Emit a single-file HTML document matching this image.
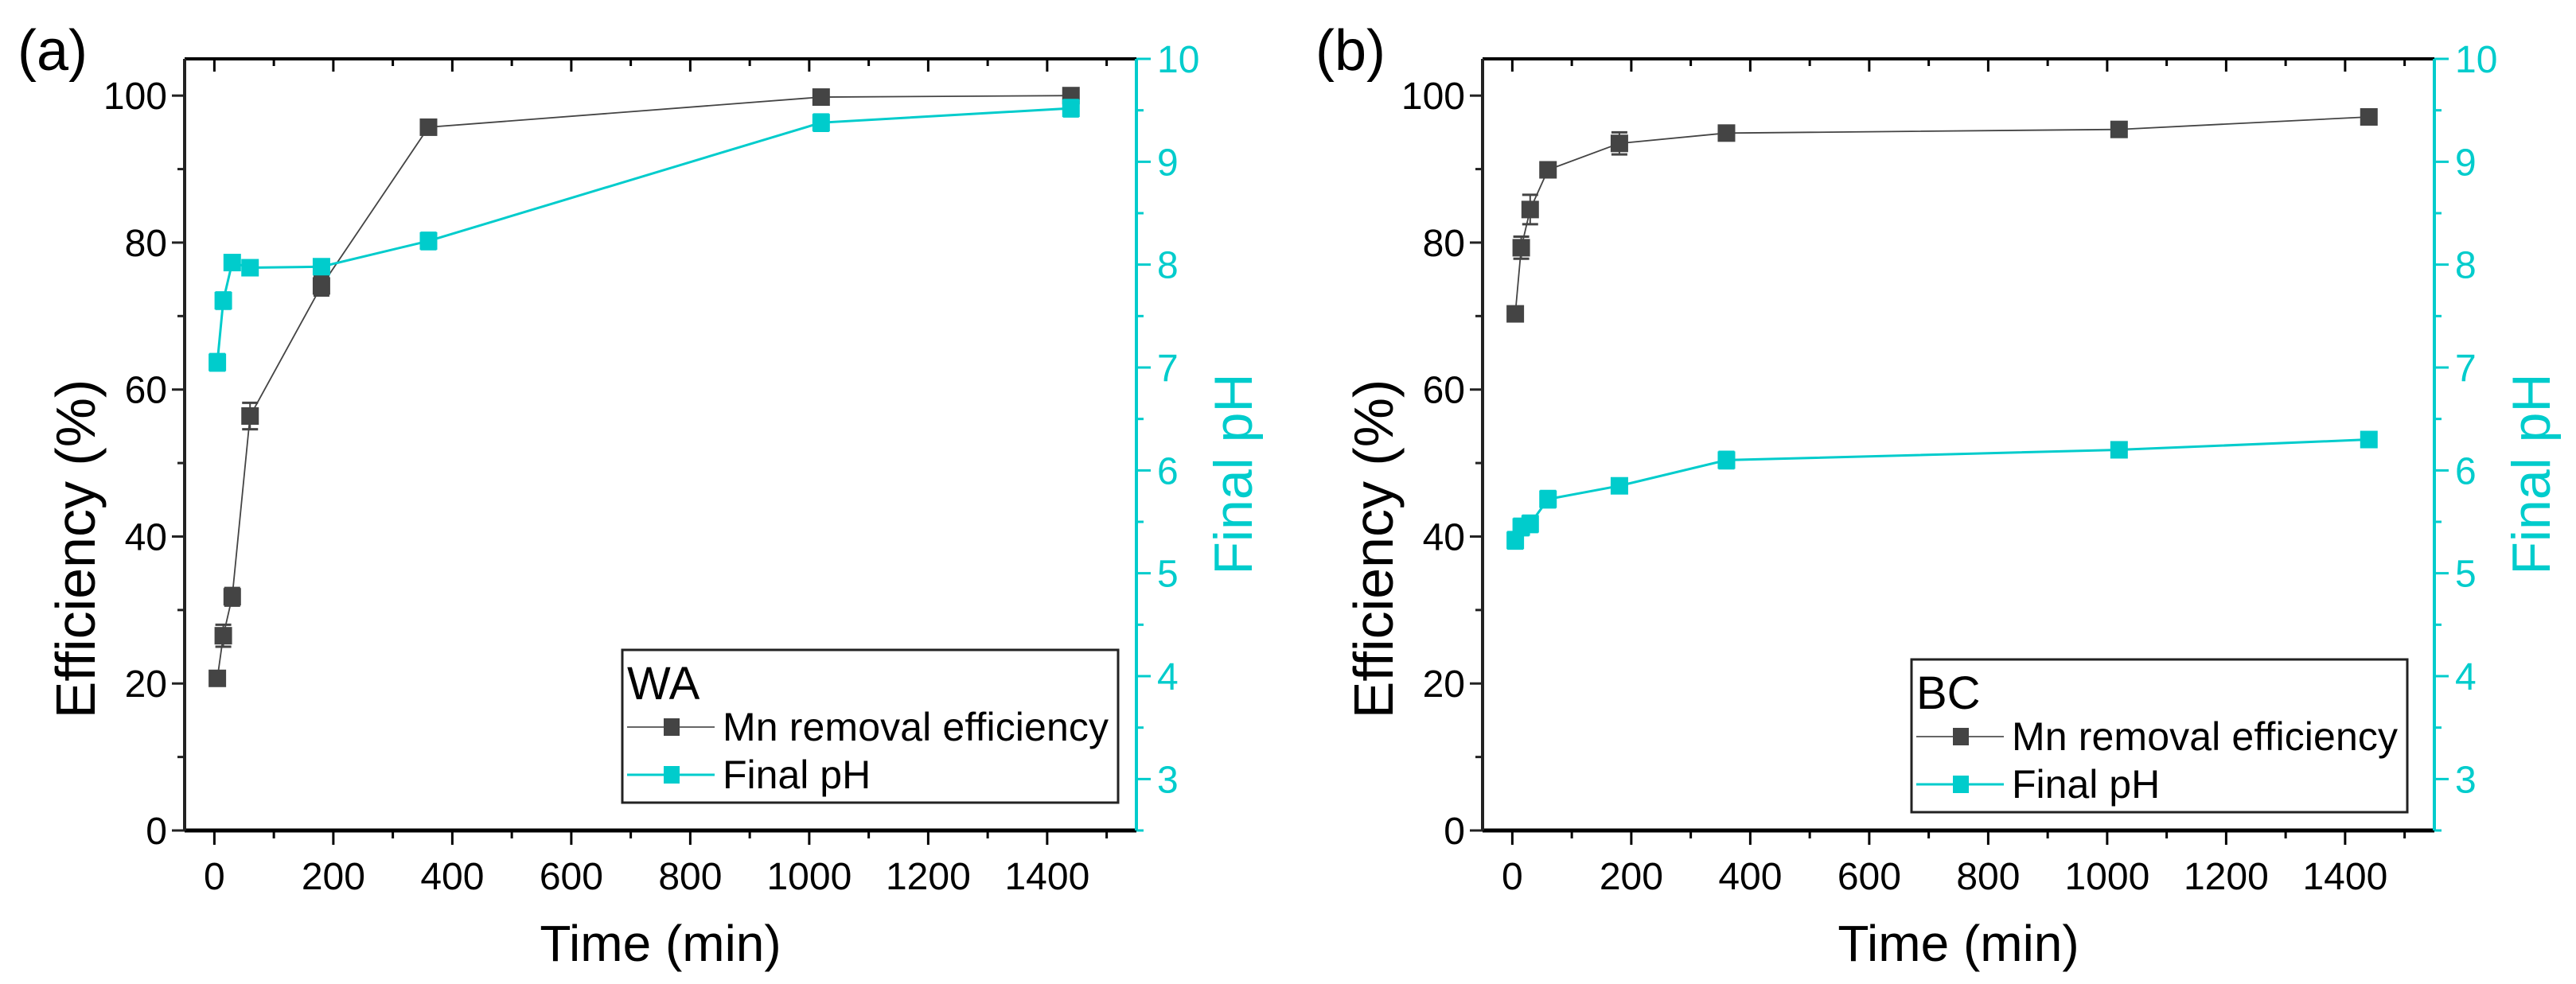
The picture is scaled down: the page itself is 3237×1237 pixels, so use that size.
<!DOCTYPE html>
<html><head><meta charset="utf-8"><style>
html,body{margin:0;padding:0;background:#fff;}
svg{display:block;font-family:"Liberation Sans",sans-serif;}
</style></head><body>
<svg id="chart" width="3237" height="1237" viewBox="0 0 3237 1237" xmlns="http://www.w3.org/2000/svg"></svg>
<script>
const times = [5, 15, 30, 60, 180, 360, 1020, 1440];
const effA = [20.7, 26.5, 31.8, 56.4, 74.1, 95.7, 99.8, 100.0];
const effAErr = [1.0, 1.5, 1.2, 1.8, 1.3, 0.5, 0.5, 0.6];
const phA = [7.05, 7.65, 8.02, 7.97, 7.98, 8.23, 9.38, 9.52];
const phAErr = [0.08, 0.08, 0.07, 0.07, 0.05, 0.08, 0.08, 0.08];
const effB = [70.3, 79.3, 84.5, 89.9, 93.5, 94.9, 95.4, 97.1];
const effBErr = [1.0, 1.5, 2.0, 0.8, 1.5, 0.8, 1.0, 0.6];
const phB = [5.32, 5.45, 5.48, 5.72, 5.85, 6.10, 6.20, 6.30];
const phBErr = [0.08, 0.08, 0.08, 0.08, 0.07, 0.08, 0.07, 0.07];
const xTicks = [0, 200, 400, 600, 800, 1000, 1200, 1400];
const yTicks = [0, 20, 40, 60, 80, 100];
const phTicks = [3, 4, 5, 6, 7, 8, 9, 10];

const NS = "http://www.w3.org/2000/svg";
const svg = document.getElementById('chart');
const CY = '#00CCCC', DK = '#444444';
function mk(tag, attrs, parent, txt) {
  const e = document.createElementNS(NS, tag);
  for (const k in attrs) e.setAttribute(k, attrs[k]);
  if (txt !== undefined) e.textContent = txt;
  (parent || svg).appendChild(e);
  return e;
}

function panel(ox, label, tag, eff, effErr, ph, phErr, leg, yTitleC, rTitleC) {
  const L = ox, R = ox + 1196, T = 74, B = 1044;
  const xs = v => L + (v + 50) / 1600 * (R - L);
  const ys = v => B - v / 105 * (B - T);
  const yp = v => B - (v - 2.5) / 7.5 * (B - T);
  const g = mk('g', {});
  
  
  const pl = mk('text', {x: ox - 210, y: 88, 'font-size': 72}, g, label);
  
  
  mk('line', {x1: L, y1: T, x2: R, y2: T, stroke: '#000', 'stroke-width': 4}, g);
  mk('line', {x1: L, y1: B, x2: R, y2: B, stroke: '#000', 'stroke-width': 5}, g);
  mk('line', {x1: L, y1: T, x2: L, y2: B, stroke: '#222', 'stroke-width': 4}, g);
  for (let v = 0; v <= 1500; v += 100) {
    const x = xs(v), maj = v % 200 === 0;
    mk('line', {x1: x, y1: B, x2: x, y2: B + (maj ? 18 : 10), stroke: '#000', 'stroke-width': 3}, g);
    mk('line', {x1: x, y1: T, x2: x, y2: T + (maj ? 16 : 9), stroke: '#000', 'stroke-width': 3}, g);
  }
  xTicks.forEach(v => {
    const t = mk('text', {x: xs(v), y: B + 74, 'font-size': 48, 'text-anchor': 'middle'}, g, v);
    
    
  });
  for (let v = 0; v <= 100; v += 10) {
    const y = ys(v), maj = v % 20 === 0;
    mk('line', {x1: L, y1: y, x2: L - (maj ? 16 : 9), y2: y, stroke: '#222', 'stroke-width': 3}, g);
  }
  yTicks.forEach(v => {
    const t = mk('text', {x: L - 22, y: ys(v) + 17, 'font-size': 48, 'text-anchor': 'end'}, g, v);
    
    
  });
  mk('line', {x1: R, y1: T, x2: R, y2: B, stroke: CY, 'stroke-width': 4}, g);
  for (let v = 2.5; v <= 10.01; v += 0.5) {
    const y = yp(v), maj = Math.abs(v - Math.round(v)) < 0.01;
    mk('line', {x1: R, y1: y, x2: R + (maj ? 18 : 9), y2: y, stroke: CY, 'stroke-width': 3}, g);
  }
  phTicks.forEach(v => {
    const t = mk('text', {x: R + 26, y: yp(v) + 17, 'font-size': 48, fill: CY}, g, v);
    
    
  });
  const xt = mk('text', {x: (L + R) / 2, y: 1208, 'font-size': 64, 'text-anchor': 'middle'}, g, 'Time (min)');
  
  
  const yt = mk('text', {x: 0, y: 0, 'font-size': 70, 'text-anchor': 'middle', transform: `translate(${L - 113},${yTitleC}) rotate(-90)`}, g, 'Efficiency (%)');
  
  
  const rt = mk('text', {x: 0, y: 0, 'font-size': 68, 'text-anchor': 'middle', fill: CY, transform: `translate(${R + 145},${rTitleC}) rotate(-90)`}, g, 'Final pH');
  
  
  function series(vals, errs, sc, color, lw, name) {
    const sg = mk('g', {}, g);
    
    
    const pts = times.map((t, i) => xs(t) + ',' + sc(vals[i])).join(' ');
    mk('polyline', {points: pts, fill: 'none', stroke: color, 'stroke-width': lw}, sg);
    times.forEach((t, i) => {
      const x = xs(t), y1 = sc(vals[i] + errs[i]), y2 = sc(vals[i] - errs[i]);
      mk('line', {x1: x, y1: y1, x2: x, y2: y2, stroke: color, 'stroke-width': 2}, sg);
      mk('line', {x1: x - 10, y1: y1, x2: x + 10, y2: y1, stroke: color, 'stroke-width': 3}, sg);
      mk('line', {x1: x - 10, y1: y2, x2: x + 10, y2: y2, stroke: color, 'stroke-width': 3}, sg);
      const m = mk('rect', {x: x - 11, y: sc(vals[i]) - 11, width: 22, height: 22, fill: color}, sg);
      
      
    });
  }
  series(eff, effErr, ys, DK, 1.8, 'efficiency-series');
  series(ph, phErr, yp, CY, 3, 'ph-series');
  const lg = mk('g', {}, g);
  
  
  mk('rect', {x: leg.x, y: leg.y, width: 623, height: 192, fill: '#fff', stroke: '#222', 'stroke-width': 3}, lg);
  mk('text', {x: leg.x + 6, y: leg.y + 62, 'font-size': 58}, lg, tag);
  const e1 = leg.y + 114, e2 = leg.y + 174;
  mk('line', {x1: leg.x + 6, y1: e1 - 17, x2: leg.x + 116, y2: e1 - 17, stroke: '#666', 'stroke-width': 2}, lg);
  mk('rect', {x: leg.x + 52, y: e1 - 28, width: 20, height: 22, fill: DK}, lg);
  mk('text', {x: leg.x + 126, y: e1, 'font-size': 50, textLength: 485}, lg, 'Mn removal efficiency');
  mk('line', {x1: leg.x + 6, y1: e2 - 17, x2: leg.x + 116, y2: e2 - 17, stroke: CY, 'stroke-width': 3}, lg);
  mk('rect', {x: leg.x + 52, y: e2 - 28, width: 20, height: 22, fill: CY}, lg);
  mk('text', {x: leg.x + 126, y: e2, 'font-size': 50}, lg, 'Final pH');
}
panel(232, '(a)', 'WA', effA, effAErr, phA, phAErr, {x: 782, y: 817}, 690, 596);
panel(1863, '(b)', 'BC', effB, effBErr, phB, phBErr, {x: 2402, y: 829}, 690, 596);
</script>
</body></html>
